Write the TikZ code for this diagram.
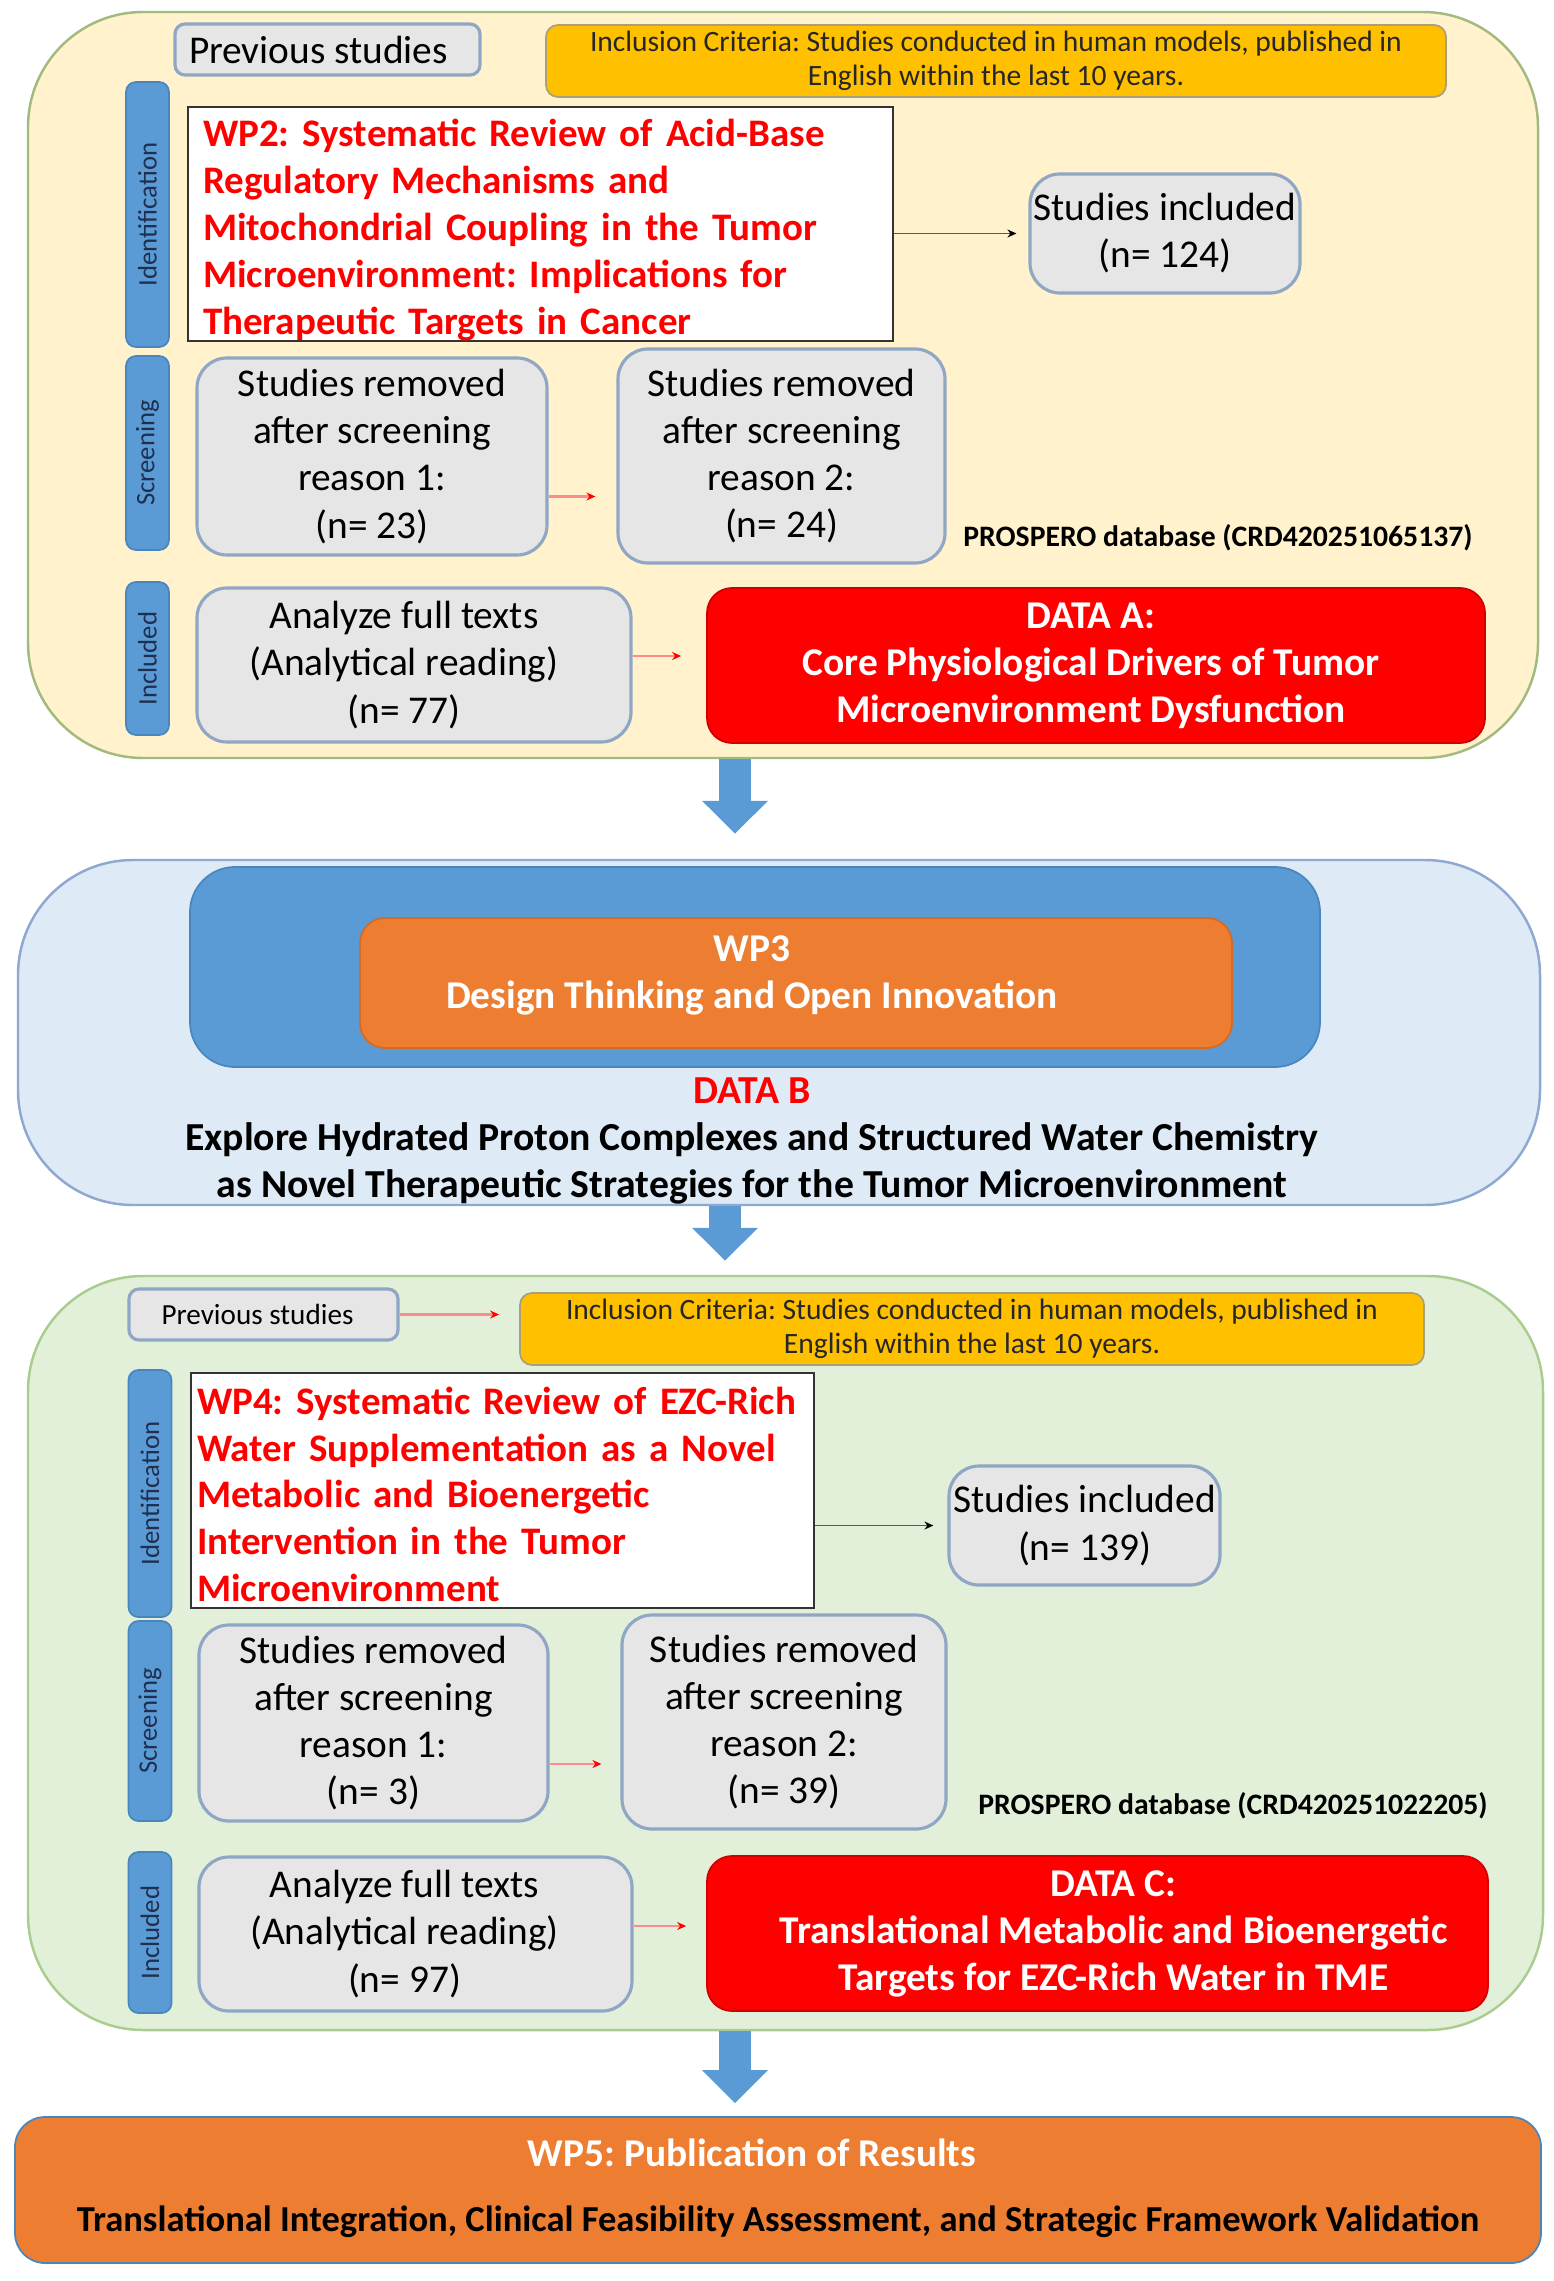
\documentclass[tikz,border=0pt]{standalone}
\usepackage{fontspec}
\setmainfont{Carlito}
\usetikzlibrary{positioning,arrows.meta,calc}
\definecolor{pan_yellow}{HTML}{FFF2CC}
\definecolor{pan_yellow_line}{HTML}{A3BA7E}
\definecolor{pan_blue}{HTML}{DEEBF7}
\definecolor{pan_blue_line}{HTML}{8EA8D2}
\definecolor{pan_green}{HTML}{E2F0D9}
\definecolor{pan_green_line}{HTML}{A9CD8E}
\definecolor{box_grey}{HTML}{E6E6E6}
\definecolor{box_grey_line}{HTML}{8FA6C4}
\definecolor{bar_blue}{HTML}{5B9BD5}
\definecolor{bar_blue_line}{HTML}{4A86BE}
\definecolor{bar_text}{HTML}{1F2F4F}
\definecolor{incl_gold}{HTML}{FFC000}
\definecolor{incl_line}{HTML}{A8A07A}
\definecolor{data_red}{HTML}{FF0000}
\definecolor{data_red_line}{HTML}{D00000}
\definecolor{wp_orange}{HTML}{ED7D31}
\definecolor{wp_orange_line}{HTML}{D66A22}
\newcommand\fsz[2]{\fontsize{#1}{#2}\selectfont}
\frenchspacing
\tikzset{
  base/.style = {align=center, inner sep=0pt, text centered},
  panel/.style = {base, rectangle, rounded corners=1.15cm, line width=0.7pt},
  grey_box/.style = {base, rectangle, rounded corners=0.3cm, fill=box_grey, draw=box_grey_line, line width=0.9pt, font=\fsz{11.2}{13.4}},
  grey_text/.style = {base, font=\fsz{11.2}{13.4}},
  prev_box/.style = {base, rectangle, rounded corners=0.1cm, fill=box_grey, draw=box_grey_line, line width=0.9pt},
  incl_box/.style = {base, rectangle, rounded corners=0.12cm, fill=incl_gold, draw=incl_line, line width=0.5pt, text=black!85, font=\fsz{8.4}{9.7}},
  wp_box/.style = {base, rectangle, align=left, fill=white, draw=black!80, line width=0.7pt, text=data_red, font=\bfseries\fsz{11.1}{13.35}},
  side_bar/.style = {base, rectangle, rotate=90, rounded corners=0.1cm, minimum height=0.43cm, fill=bar_blue, draw=bar_blue_line, line width=0.5pt, text=bar_text, font=\fsz{7.6}{9}},
  red_box/.style = {base, rectangle, rounded corners=0.25cm, fill=data_red, draw=data_red_line, line width=0.5pt},
  white_text/.style = {base, text=white, font=\bfseries\fsz{11.2}{13.4}},
  pros_text/.style = {base, font=\bfseries\fsz{8.45}{10}},
  thin_arrow/.style = {draw=black!65, line width=0.5pt, -{Stealth[length=0.09cm, width=0.08cm, black]}},
  red_arrow/.style = {draw=red!45, line width=0.6pt, -{Stealth[length=0.09cm, width=0.08cm, red]}},
  big_arrow/.style = {draw=bar_blue, line width=0.32cm, -{Triangle[length=0.33cm, width=0.64cm]}}
}

\begin{document}
\begin{tikzpicture}
\useasboundingbox (0,0) rectangle (15.53,-22.81);

% first review
\node [panel, fill=pan_yellow, draw=pan_yellow_line, minimum width=15.10cm, minimum height=7.46cm] (top) at (7.83,-3.85) {};
\node [prev_box, minimum width=3.05cm, minimum height=0.51cm, font=\fsz{11.2}{12}] (prev1) at (3.275,-0.495) {Previous studies\hspace*{0.18cm}};
\node [incl_box, minimum width=9.0cm, minimum height=0.72cm] (incl1) at (9.96,-0.61) {Inclusion Criteria: Studies conducted in human models, published in\\English within the last 10 years.};
\node [side_bar, minimum width=2.65cm] (idbar1) at (1.475,-2.145) {Identification};
\node [side_bar, minimum width=1.94cm] (scbar1) at (1.475,-4.53) {Screening};
\node [side_bar, minimum width=1.53cm] (inbar1) at (1.475,-6.585) {Included};
\node [wp_box, inner xsep=0.15cm, text width=6.75cm, minimum height=2.34cm] (wp2) at (5.405,-2.24) {\rule{0pt}{11.2pt}WP2: Systematic Review of Acid-Base\\Regulatory Mechanisms and\\Mitochondrial Coupling in the Tumor\\Microenvironment: Implications for\\Therapeutic Targets in Cancer};
\node [grey_box, minimum width=2.70cm, minimum height=1.19cm] (inc1) at (11.65,-2.335) {Studies included\\(n= 124)};
\node [grey_box, minimum width=3.50cm, minimum height=1.97cm] (rema1) at (3.72,-4.565) {Studies removed\\after screening\\reason 1:\\(n= 23)};
\node [grey_box, minimum width=3.27cm, minimum height=2.14cm] (remb1) at (7.815,-4.56) {Studies removed\\after screening\\reason 2:\\(n= 24)};
\node [pros_text] (pros1) at (12.18,-5.38) {PROSPERO database (CRD420251065137)};
\node [grey_box, minimum width=4.34cm, minimum height=1.54cm] (full1) at (4.14,-6.65) {};
\node [grey_text] (full1_txt) at ([xshift=-0.1cm]full1.center) {Analyze full texts\\(Analytical reading)\\(n= 77)};
\node [red_box, minimum width=7.78cm, minimum height=1.55cm] (dataa) at (10.96,-6.655) {};
\node [white_text] (dataa_txt) at ([xshift=-0.05cm]dataa.center) {DATA A:\\Core Physiological Drivers of Tumor\\Microenvironment Dysfunction};

\draw [thin_arrow, shorten >=0.12cm] (wp2.east |- inc1) -- (inc1);
\draw [red_arrow, shorten >=0.21cm] ([yshift=-0.4cm]rema1.east) -- ([yshift=-0.4cm]rema1.east -| remb1.west);
\draw [red_arrow, shorten >=0.25cm] ([yshift=0.09cm]full1.east) -- ([yshift=0.09cm]full1.east -| dataa.west);

% design thinking
\node [panel, fill=pan_blue, draw=pan_blue_line, minimum width=15.22cm, minimum height=3.45cm] (mid) at (7.79,-10.325) {};
\node [base, rectangle, rounded corners=0.45cm, fill=bar_blue, draw=bar_blue_line, line width=0.5pt, minimum width=11.30cm, minimum height=2.00cm] (dt) at (7.55,-9.67) {};
\node [red_box, fill=wp_orange, draw=wp_orange_line, minimum width=8.72cm, minimum height=1.30cm] (wp3) at (7.96,-9.83) {};
\node [white_text] (wp3_txt) at (7.52,-9.75) {WP3\\Design Thinking and Open Innovation};
\node [base, font=\bfseries\fsz{11.3}{13.4}] (datab) at (7.52,-11.41) {\textcolor{data_red}{DATA B}\\Explore Hydrated Proton Complexes and Structured Water Chemistry\\as Novel Therapeutic Strategies for the Tumor Microenvironment};

% second review
\node [panel, fill=pan_green, draw=pan_green_line, minimum width=15.15cm, minimum height=7.54cm] (bot) at (7.855,-16.53) {};
\node [prev_box, minimum width=2.69cm, minimum height=0.51cm, font=\fsz{8.3}{10}] (prev2) at (2.635,-13.145) {Previous studies\hspace*{0.12cm}};
\node [incl_box, minimum width=9.04cm, minimum height=0.72cm] (incl2) at (9.72,-13.29) {Inclusion Criteria: Studies conducted in human models, published in\\English within the last 10 years.};
\node [side_bar, minimum width=2.47cm] (idbar2) at (1.50,-14.935) {Identification};
\node [side_bar, minimum width=2.00cm] (scbar2) at (1.50,-17.21) {Screening};
\node [side_bar, minimum width=1.61cm] (inbar2) at (1.50,-19.325) {Included};
\node [wp_box, inner xsep=0.06cm, text width=6.11cm, minimum height=2.35cm] (wp4) at (5.025,-14.905) {\rule{0pt}{10pt}WP4: Systematic Review of EZC-Rich\\Water Supplementation as a Novel\\Metabolic and Bioenergetic\\Intervention in the Tumor\\Microenvironment};
\node [grey_box, minimum width=2.71cm, minimum height=1.19cm] (inc2) at (10.845,-15.255) {Studies included\\(n= 139)};
\node [grey_box, minimum width=3.49cm, minimum height=1.96cm] (rema2) at (3.735,-17.23) {Studies removed\\after screening\\reason 1:\\(n= 3)};
\node [grey_box, minimum width=3.24cm, minimum height=2.14cm] (remb2) at (7.84,-17.22) {Studies removed\\after screening\\reason 2:\\(n= 39)};
\node [pros_text] (pros2) at (12.33,-18.06) {PROSPERO database (CRD420251022205)};
\node [grey_box, minimum width=4.33cm, minimum height=1.54cm] (full2) at (4.155,-19.34) {};
\node [grey_text] (full2_txt) at ([xshift=-0.11cm]full2.center) {Analyze full texts\\(Analytical reading)\\(n= 97)};
\node [red_box, minimum width=7.81cm, minimum height=1.55cm] (datac) at (10.975,-19.335) {};
\node [white_text] (datac_txt) at ([xshift=0.16cm]datac.center) {DATA C:\\Translational Metabolic and Bioenergetic\\Targets for EZC-Rich Water in TME};

\draw [red_arrow, shorten >=0.2cm] (prev2) -- (prev2 -| incl2.west);
\draw [thin_arrow, shorten >=0.14cm] (wp4.east |- inc2) -- (inc2);
\draw [red_arrow, shorten >=0.19cm] ([yshift=-0.41cm]rema2.east) -- ([yshift=-0.41cm]rema2.east -| remb2.west);
\draw [red_arrow, shorten >=0.2cm] ([yshift=0.08cm]full2.east) -- ([yshift=0.08cm]full2.east -| datac.west);

% results
\node [base, rectangle, rounded corners=0.3cm, fill=wp_orange, draw=bar_blue_line, line width=0.5pt, minimum width=15.26cm, minimum height=1.46cm] (wp5) at (7.78,-21.90) {};
\node [white_text] (wp5_title) at (7.52,-21.53) {WP5: Publication of Results};
\node [base, font=\bfseries\fsz{10.4}{13}] (wp5_txt) at (7.78,-22.22) {Translational Integration, Clinical Feasibility Assessment, and Strategic Framework Validation};

\draw [big_arrow] (top.south -| 7.35,0) -- ([yshift=0.25cm]mid.north -| 7.35,0);
\draw [big_arrow] (mid.south -| 7.25,0) -- ([yshift=0.14cm]bot.north -| 7.25,0);
\draw [big_arrow] (bot.south -| 7.35,0) -- ([yshift=0.13cm]wp5.north -| 7.35,0);
\end{tikzpicture}
\end{document}
